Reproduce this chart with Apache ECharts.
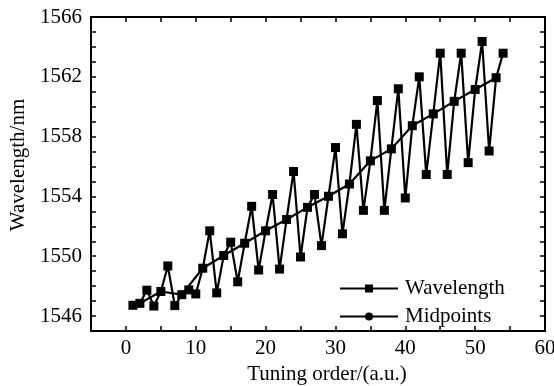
<!DOCTYPE html>
<html>
<head>
<meta charset="utf-8">
<script src="https://cdn.jsdelivr.net/npm/echarts@6/dist/echarts.min.js"></script>
<style>
  html, body { margin: 0; padding: 0; background: #fff; }
  #chart { width: 554px; height: 386px; }
</style>
</head>
<body>
<div id="chart"></div>
<script>
// tuning order of every wavelength reading
const tuningOrder = [
  1, 2, 3, 4, 5, 6, 7, 8, 9, 10, 11, 12, 13, 14, 15, 16, 17, 18,
  19, 20, 21, 22, 23, 24, 25, 26, 27, 28, 29, 30, 31, 32, 33, 34, 35, 36,
  37, 38, 39, 40, 41, 42, 43, 44, 45, 46, 47, 48, 49, 50, 51, 52, 53, 54
];
const wavelength = [
  1546.72, 1546.85, 1547.73, 1546.67, 1547.64, 1549.35, 1546.70, 1547.43, 1547.75,
  1547.48, 1549.20, 1551.70, 1547.55, 1550.05, 1550.94, 1548.29, 1550.87, 1553.34,
  1549.08, 1551.70, 1554.13, 1549.14, 1552.46, 1555.67, 1549.95, 1553.27, 1554.13,
  1550.71, 1554.01, 1557.27, 1551.50, 1554.83, 1558.82, 1553.07, 1556.38, 1560.41,
  1553.07, 1557.18, 1561.20, 1553.90, 1558.73, 1562.00, 1555.47, 1559.52, 1563.58,
  1555.47, 1560.36, 1563.58, 1556.26, 1561.15, 1564.36, 1557.04, 1561.94, 1563.58
];

// midpoints of each tuning group
const midOrder = [2, 5, 8, 11, 14, 17, 20, 23, 26, 29, 32, 35, 38, 41, 44, 47, 50, 53];
const midpoints = [
  1546.85, 1547.64, 1547.43, 1549.20, 1550.05, 1550.87, 1551.70, 1552.46, 1553.27,
  1554.01, 1554.83, 1556.38, 1557.18, 1558.73, 1559.52, 1560.36, 1561.15, 1561.94
];

const xLabels = [0, 10, 20, 30, 40, 50, 60];
const yLabels = [1546, 1550, 1554, 1558, 1562, 1566];

const FONT = "'Liberation Serif', 'DejaVu Serif', serif";

const chart = echarts.init(document.getElementById("chart"), null, { renderer: "canvas" });

function pairs(xs, ys) {
  return xs.map((x, i) => [x, ys[i]]);
}

const frameLine = { show: true, onZero: false, lineStyle: { color: "#000", width: 2 } };
const innerTick = { show: true, inside: true, length: 5, lineStyle: { color: "#000", width: 1.5 } };

const xBase = {
  type: "value",
  min: -5,
  max: 60,
  interval: 5,
  axisLine: frameLine,
  axisTick: innerTick,
  splitLine: { show: false },
};
const yBase = {
  type: "value",
  min: 1545,
  max: 1566,
  interval: 1,
  axisLine: frameLine,
  axisTick: innerTick,
  splitLine: { show: false },
};

chart.setOption({
  backgroundColor: "#fff",
  animation: false,
  grid: { left: 91, right: 9, top: 17, bottom: 55, containLabel: false, outerBoundsMode: "none" },
  legend: {
    orient: "vertical",
    left: 334,
    top: 273,
    itemWidth: 58,
    itemHeight: 10,
    itemGap: 7,
    data: ["Wavelength", "Midpoints"],
    textStyle: { fontFamily: FONT, fontSize: 21, color: "#000", padding: [0, 0, 0, 2] },
  },
  xAxis: [
    Object.assign({}, xBase, {
      position: "bottom",
      name: "Tuning order/(a.u.)",
      nameLocation: "middle",
      nameGap: 31,
      nameTextStyle: { fontFamily: FONT, fontSize: 21, color: "#000", padding: [0, 0, 0, 18] },
      axisLabel: {
        fontFamily: FONT,
        fontSize: 21,
        color: "#000",
        margin: 7,
        formatter: (v) => (xLabels.includes(v) ? String(v) : ""),
      },
    }),
    Object.assign({}, xBase, { position: "top", axisLabel: { show: false } }),
  ],
  yAxis: [
    Object.assign({}, yBase, {
      position: "left",
      name: "Wavelength/nm",
      nameLocation: "middle",
      nameGap: 62,
      nameTextStyle: { fontFamily: FONT, fontSize: 21, color: "#000", padding: [0, 0, 0, 18] },
      axisLabel: {
        fontFamily: FONT,
        fontSize: 21,
        color: "#000",
        margin: 9,
        formatter: (v) => (yLabels.includes(v) ? String(v) : ""),
      },
    }),
    Object.assign({}, yBase, { position: "right", axisLabel: { show: false } }),
  ],
  series: [
    {
      name: "Midpoints",
      type: "line",
      xAxisIndex: 0,
      yAxisIndex: 0,
      data: pairs(midOrder, midpoints),
      symbol: "circle",
      symbolSize: 8,
      lineStyle: { color: "#000", width: 2.2 },
      itemStyle: { color: "#000" },
      z: 2,
    },
    {
      name: "Wavelength",
      type: "line",
      xAxisIndex: 0,
      yAxisIndex: 0,
      data: pairs(tuningOrder, wavelength),
      symbol: "rect",
      symbolSize: 9,
      lineStyle: { color: "#000", width: 2.2 },
      itemStyle: { color: "#000" },
      z: 3,
    },
  ],
});
</script>
</body>
</html>
